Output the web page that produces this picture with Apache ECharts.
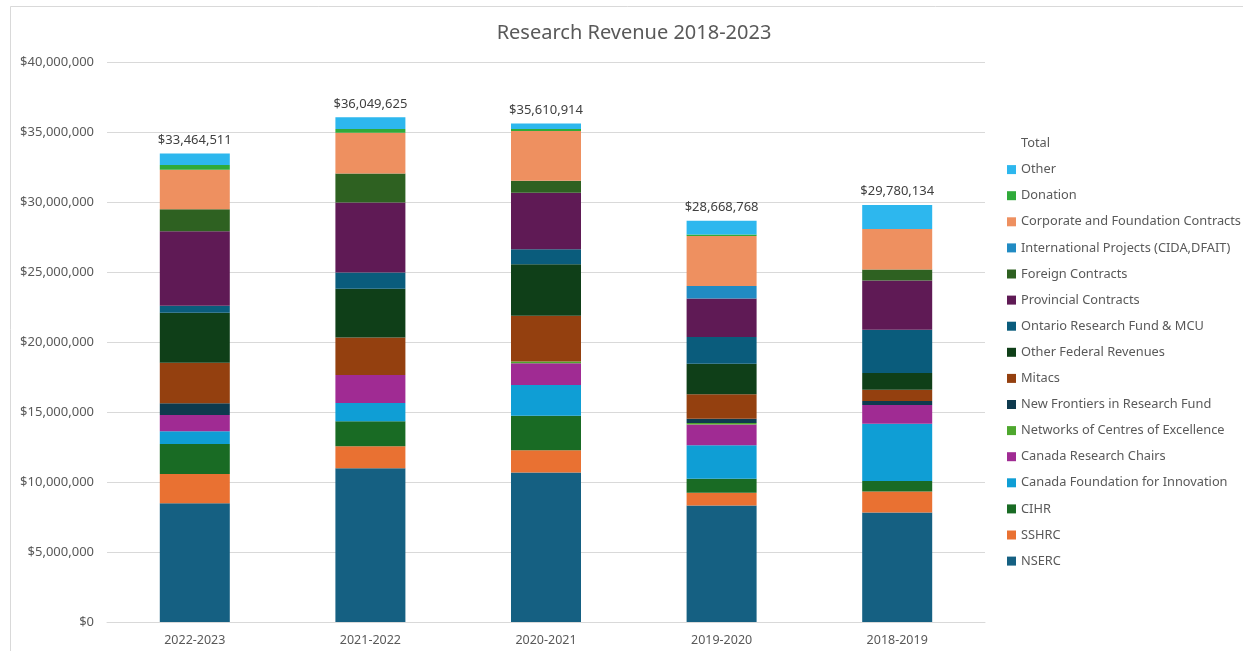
<!DOCTYPE html>
<html>
<head>
<meta charset="utf-8">
<script src="https://cdn.jsdelivr.net/npm/echarts@6/dist/echarts.min.js"></script>
<style>
html,body{margin:0;padding:0;background:#fff;}
#c{width:1243px;height:651px;}
</style>
</head>
<body>
<div id="c"></div>
<script>
const categories = ['2022-2023', '2021-2022', '2020-2021', '2019-2020', '2018-2019'];
const totals = [33464511, 36049625, 35610914, 28668768, 29780134];

const nserc         = [8480000, 10990000, 10670000, 8330000, 7830000];
const sshrc         = [2090000, 1570000, 1600000, 910000, 1500000];
const cihr          = [2140000, 1780000, 2460000, 1000000, 740000];
const cfi           = [910000, 1300000, 2200000, 2380000, 4090000];
const crc           = [1170000, 2000000, 1550000, 1480000, 1340000];
const nce           = [0, 0, 120000, 110000, 0];
const nfrf          = [830000, 0, 0, 310000, 290000];
const mitacs        = [2900000, 2690000, 3280000, 1740000, 800000];
const otherFederal  = [3570000, 3480000, 3680000, 2190000, 1200000];
const ontario       = [500000, 1160000, 1060000, 1910000, 3080000];
const provincial    = [5320000, 5000000, 4040000, 2740000, 3530000];
const foreign       = [1570000, 2070000, 850000, 0, 770000];
const international = [0, 0, 0, 900000, 0];
const corporate     = [2830000, 2910000, 3560000, 3570000, 2900000];
const donation      = [330000, 270000, 140000, 100000, 0];
const other         = [824511, 829625, 400914, 998768, 1710134];

const yTicks = { min: 0, max: 40000000, interval: 5000000 };

const stackSeries = [
  ['NSERC', nserc, '#156082'],
  ['SSHRC', sshrc, '#E97132'],
  ['CIHR', cihr, '#196B24'],
  ['Canada Foundation for Innovation', cfi, '#0F9ED5'],
  ['Canada Research Chairs', crc, '#A02B93'],
  ['Networks of Centres of Excellence', nce, '#4EA72E'],
  ['New Frontiers in Research Fund', nfrf, '#0E3A4E'],
  ['Mitacs', mitacs, '#94400F'],
  ['Other Federal Revenues', otherFederal, '#0F3F18'],
  ['Ontario Research Fund & MCU', ontario, '#0A5C7C'],
  ['Provincial Contracts', provincial, '#5F1A55'],
  ['Foreign Contracts', foreign, '#2E6121'],
  ['International Projects (CIDA,DFAIT)', international, '#218BC3'],
  ['Corporate and Foundation Contracts', corporate, '#EE9060'],
  ['Donation', donation, '#30AA3A'],
  ['Other', other, '#2DB7EE']
];

const fmt = v => '$' + Number(v).toLocaleString('en-US');
const FONT = 'Noto Sans';

const series = stackSeries.map(([name, data, color], i) => {
  const s = {
    name, type: 'bar', stack: 'total', data,
    barWidth: 70,
    itemStyle: { color },
    emphasis: { disabled: true }
  };
  if (i === stackSeries.length - 1) {
    s.label = {
      show: true, position: 'top', distance: 7,
      formatter: p => fmt(totals[p.dataIndex]),
      color: '#404040', fontSize: 13, fontFamily: FONT
    };
  }
  return s;
});
series.push({
  name: 'Total', type: 'line', data: totals,
  symbol: 'none', lineStyle: { opacity: 0, width: 0 },
  itemStyle: { color: 'transparent' },
  silent: true
});

const legendData = [{ name: 'Total', itemStyle: { opacity: 0 } }].concat(
  stackSeries.slice().reverse().map(s => ({ name: s[0] }))
);

const chart = echarts.init(document.getElementById('c'), null, { renderer: 'canvas' });
chart.setOption({
  backgroundColor: '#ffffff',
  animation: false,
  graphic: [{
    type: 'rect', z: -10,
    shape: { x: 10.5, y: 6.5, width: 1300, height: 700 },
    style: { fill: '#ffffff', stroke: '#d9d9d9', lineWidth: 1 }
  }],
  title: {
    text: 'Research Revenue 2018-2023',
    left: 629, top: 18, textAlign: 'center',
    textStyle: { color: '#595959', fontSize: 20, fontWeight: 'normal', fontFamily: FONT }
  },
  grid: { left: 107, right: 258, top: 62, bottom: 29, containLabel: false },
  legend: {
    orient: 'vertical', left: 1002, top: 132,
    itemWidth: 9, itemHeight: 9, itemGap: 13.1,
    icon: 'rect',
    data: legendData,
    textStyle: { color: '#595959', fontSize: 12.8, fontFamily: FONT },
    selectedMode: false
  },
  xAxis: {
    type: 'category', data: categories,
    axisLine: { lineStyle: { color: '#d9d9d9' } },
    axisTick: { show: false },
    axisLabel: { color: '#595959', fontSize: 12.5, fontFamily: FONT, margin: 12 }
  },
  yAxis: {
    type: 'value', min: yTicks.min, max: yTicks.max, interval: yTicks.interval,
    axisLine: { show: false }, axisTick: { show: false },
    splitLine: { lineStyle: { color: '#d9d9d9' } },
    axisLabel: { color: '#595959', fontSize: 13, fontFamily: FONT, margin: 13, formatter: fmt }
  },
  tooltip: { show: false },
  series
});
</script>
</body>
</html>
